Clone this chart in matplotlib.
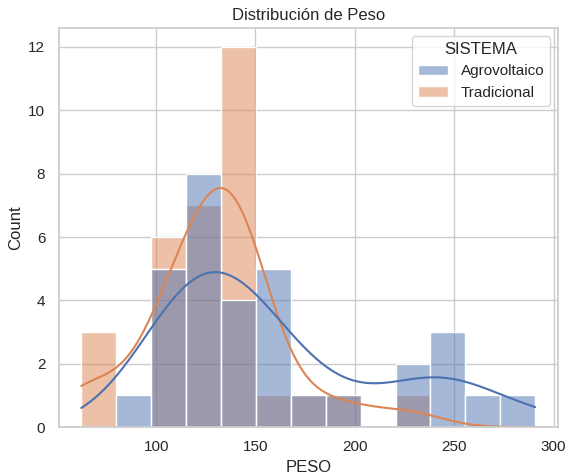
import matplotlib
matplotlib.use("Agg")
import matplotlib.pyplot as plt
import pandas as pd
import seaborn as sns

# pesos leidos del histograma (valores aproximados dentro de cada bin)
peso_agro = [92,
             104, 107, 110, 112, 114,
             117, 119, 122, 124, 126, 128, 130, 131,
             134, 137, 140, 144,
             152, 155, 158, 161, 165,
             175, 195,
             226, 234,
             240, 244, 249,
             262, 290.8]
peso_trad = [62.3, 66, 72,
             98, 101, 104, 107, 110, 113,
             116, 119, 122, 125, 127, 129, 131,
             133, 134.5, 136, 137.5, 139, 140.5, 142, 143.5, 145, 146.5, 148, 149.5,
             160, 180, 198, 228]

df = pd.DataFrame({
    "PESO": peso_agro + peso_trad,
    "SISTEMA": ["Agrovoltaico"] * len(peso_agro) + ["Tradicional"] * len(peso_trad),
})

sns.set_theme(style="whitegrid")
plt.rcParams['font.family'] = ['Liberation Sans', 'DejaVu Sans']
fig, ax = plt.subplots(figsize=(5.74, 4.74), dpi=100)
sns.histplot(data=df, x="PESO", hue="SISTEMA", bins=13, kde=True, ax=ax)
ax.set_title("Distribución de Peso")
fig.subplots_adjust(left=0.102, right=0.972, top=0.941, bottom=0.099)
plt.savefig("out.png", dpi=100)
